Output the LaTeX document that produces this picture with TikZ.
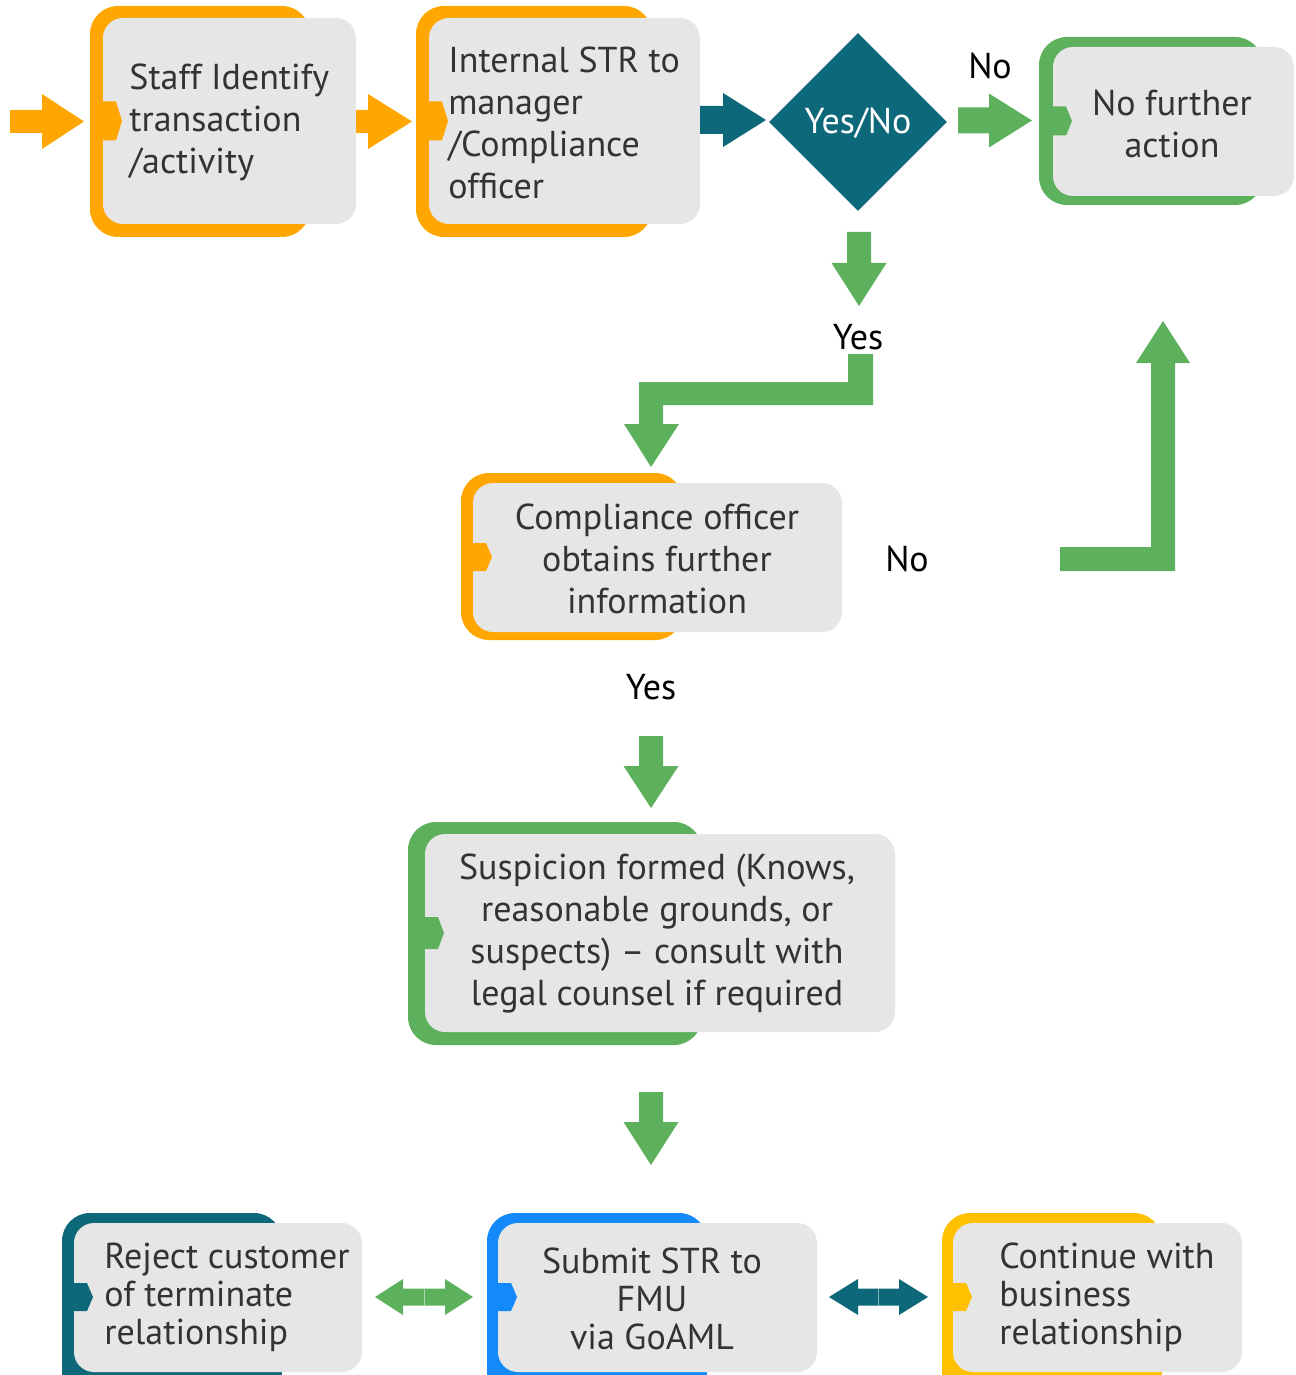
\documentclass[tikz,border=0pt]{standalone}
\usepackage{fontspec}
\setmainfont{PT Sans}
\usetikzlibrary{shapes.geometric,fit}
\definecolor{cOrange}{RGB}{255,166,0}
\definecolor{cGreen}{RGB}{94,177,92}
\definecolor{cTeal}{RGB}{13,104,122}
\definecolor{cBlue}{RGB}{20,137,250}
\definecolor{cYellow}{RGB}{255,192,0}
\definecolor{cGrey}{RGB}{230,230,230}
\definecolor{cText}{RGB}{51,51,51}
\newcommand\mynotch[4]{\fill[#1] (#2,#3-#4) -- (#2+13,#3-#4) -- (#2+19,#3) -- (#2+13,#3+#4) -- (#2,#3+#4) -- cycle;}
% right arrow: color, x0, xbase, xtip, yc, shaft half, head half
\newcommand\myrarrow[7]{\fill[#1] (#2,#5-#6) -- (#3,#5-#6) -- (#3,#5-#7) -- (#4,#5) -- (#3,#5+#7) -- (#3,#5+#6) -- (#2,#5+#6) -- cycle;}
% down arrow: color, y0, ybase, ytip, xc, shaft half, head half
\newcommand\mydarrow[7]{\fill[#1] (#5-#6,#2) -- (#5-#6,#3) -- (#5-#7,#3) -- (#5,#4) -- (#5+#7,#3) -- (#5+#6,#3) -- (#5+#6,#2) -- cycle;}
\begin{document}
\begin{tikzpicture}[x=0.5pt,y=-0.5pt,
  backbox/.style={rounded corners=14pt},
  greybox/.style={fill=cGrey, rounded corners=10pt, inner sep=0pt, draw=none},
  boxtext/.style={text=cText, font=\fontsize{18}{21}\selectfont, inner sep=0pt},
  lowtext/.style={text=cText, font=\fontsize{18}{19}\selectfont, inner sep=0pt},
  lbl/.style={text=black, font=\fontsize{18}{21}\selectfont, inner sep=0pt}]
\useasboundingbox (0,0) rectangle (1295,1375);
\clip (0,0) rectangle (1295,1375);

% ---------- Box 1: Staff identify
\fill[cOrange,backbox] (90,6) rectangle (310,237);
\node[greybox, fit={(103,18) (356,224)}] (g1) {};
\mynotch{cOrange}{103}{121}{19.5}
\node[boxtext, anchor=west, align=left] (t1) at (129,122) {Staff Identify\\transaction\\/activity};

% ---------- Box 2: Internal STR
\fill[cOrange,backbox] (416,6) rectangle (652,237);
\node[greybox, fit={(429,18) (700,224)}] (g2) {};
\mynotch{cOrange}{429}{121}{19.5}
\node[boxtext, anchor=west, align=left] (t2) at (448,123) {Internal STR to\\manager\\/Compliance\\officer};

% ---------- Diamond
\node[diamond, fill=cTeal, minimum width=89pt, minimum height=89pt, inner sep=0pt] (d) at (858,122) {};
\node[text=white, font=\fontsize{18}{21}\selectfont, inner sep=0pt] (dt) at (858,123) {Yes/No};

% ---------- Box 3: No further action
\fill[cGreen,backbox] (1039,37) rectangle (1263,205);
\node[greybox, fit={(1053,47) (1294,196)}] (g3) {};
\mynotch{cGreen}{1053}{121}{14.5}
\node[boxtext, align=center] (t3) at (1172,124) {No further\\action};

% ---------- Box 4: Compliance officer obtains
\fill[cOrange,backbox] (461,473) rectangle (683,640);
\node[greybox, fit={(473,483) (842,632)}] (g4) {};
\mynotch{cOrange}{473}{557}{14}
\node[boxtext, align=center] (t4) at (657,559) {Compliance officer\\obtains further\\information};

% ---------- Box 5: Suspicion formed
\fill[cGreen,backbox] (408,822) rectangle (702,1045);
\node[greybox, fit={(425,834) (895,1032)}] (g5) {};
\mynotch{cGreen}{425}{933}{16}
\node[boxtext, align=center] (t5) at (657,933) {Suspicion formed (Knows,\\reasonable grounds, or\\suspects) -- consult with\\legal counsel if required};

% ---------- Box 6: Reject
\fill[cTeal,backbox] (62,1213) rectangle (282,1400);
\node[greybox, fit={(74,1223) (362,1372)}] (g6) {};
\mynotch{cTeal}{74}{1297}{14}
\node[lowtext, anchor=west, align=left] (t6) at (104,1297) {Reject customer\\of terminate\\relationship};

% ---------- Box 7: Submit STR
\fill[cBlue,backbox] (487,1213) rectangle (707,1400);
\node[greybox, fit={(498,1223) (817,1372)}] (g7) {};
\mynotch{cBlue}{498}{1297}{14}
\node[lowtext, align=center] (t7) at (652,1299) {Submit STR to\\FMU\\via GoAML};

% ---------- Box 8: Continue
\fill[cYellow,backbox] (942,1213) rectangle (1162,1400);
\node[greybox, fit={(953,1223) (1242,1372)}] (g8) {};
\mynotch{cYellow}{953}{1297}{14}
\node[lowtext, anchor=west, align=left] (t8) at (999,1297) {Continue with\\business\\relationship};

% ---------- Arrows
\myrarrow{cOrange}{10}{42}{84}{121.5}{11.5}{27.5}
\myrarrow{cOrange}{356}{368}{412}{121.5}{11.5}{27.5}
\myrarrow{cTeal}{700}{723}{766}{120}{14}{27}
\myrarrow{cGreen}{958}{989}{1032}{120.5}{13}{27}
\mydarrow{cGreen}{232}{263}{306}{859}{12}{27.5}
\fill[cGreen] (848,354) -- (873,354) -- (873,405) -- (663,405) -- (663,424) -- (679,424) -- (651,467) -- (624,424) -- (639,424) -- (639,382) -- (848,382) -- cycle;
\fill[cGreen] (1060,547) -- (1151,547) -- (1151,363) -- (1136,363) -- (1163,321) -- (1190,363) -- (1175,363) -- (1175,571) -- (1060,571) -- cycle;
\mydarrow{cGreen}{736}{766}{808}{651}{12}{27.5}
\mydarrow{cGreen}{1092}{1122}{1165}{651}{12}{27.5}
% double arrows
\fill[cGreen] (375,1297) -- (403,1279) -- (403,1288.5) -- (445,1288.5) -- (445,1279) -- (473,1297) -- (445,1315) -- (445,1305.5) -- (403,1305.5) -- (403,1315) -- cycle;
\draw[cGreen!50!white, line width=0.4pt] (424,1288.5) -- (424,1305.5);
\fill[cTeal] (829,1297) -- (858,1279) -- (858,1288.5) -- (899,1288.5) -- (899,1279) -- (928,1297) -- (899,1315) -- (899,1305.5) -- (858,1305.5) -- (858,1315) -- cycle;
\draw[cTeal!50!white, line width=0.4pt] (878,1288.5) -- (878,1305.5);

% ---------- Labels
\node[lbl] (lno1) at (990,66) {No};
\node[lbl] (lyes1) at (858,337) {Yes};
\node[lbl] (lno2) at (907,559) {No};
\node[lbl] (lyes2) at (651,687) {Yes};
\end{tikzpicture}
\end{document}
